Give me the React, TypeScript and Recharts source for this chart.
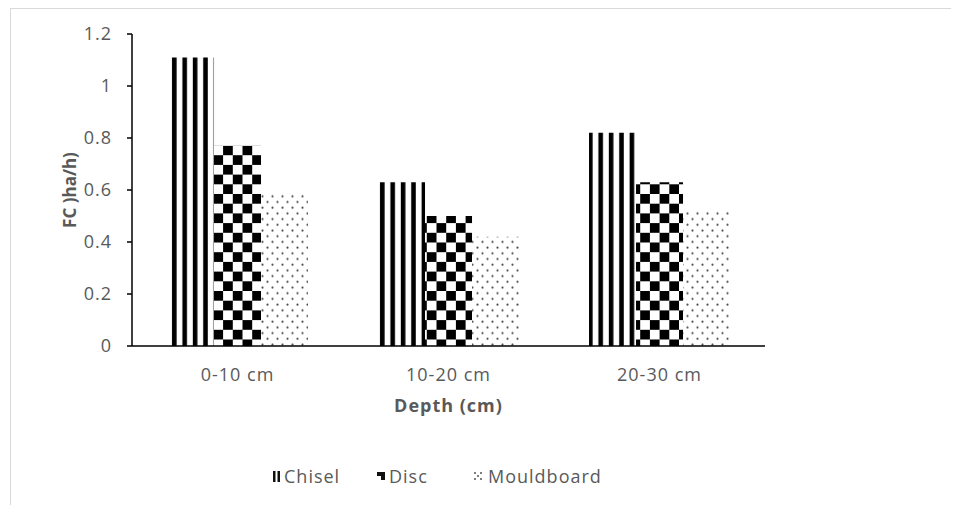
import { BarChart, Bar, XAxis, YAxis } from "recharts";

const depths = ["0-10 cm", "10-20 cm", "20-30 cm"];
const chisel = [1.11, 0.63, 0.82];
const disc = [0.77, 0.5, 0.63];
const mouldboard = [0.59, 0.42, 0.52];
const yTicks = [0, 0.2, 0.4, 0.6, 0.8, 1, 1.2];
const seriesNames = ["Chisel", "Disc", "Mouldboard"];

const data = depths.map((depth, i) => ({
  depth,
  Chisel: chisel[i],
  Disc: disc[i],
  Mouldboard: mouldboard[i],
}));

const FONT = "'Open Sans', sans-serif";
const GREY = "#595959";

const fills: Record<string, string> = {
  Chisel: "url(#pChisel)",
  Disc: "url(#pDisc)",
  Mouldboard: "url(#pMould)",
};

// where each legend entry starts
const legendLeft: Record<string, number> = { Chisel: 272, Disc: 377, Mouldboard: 473 };

function XTick({ x, y, payload }: any) {
  return (
    <text
      x={x}
      y={y}
      dy={35}
      textAnchor="middle"
      fill={GREY}
      fontSize={18}
      fontFamily={FONT}
      letterSpacing={1}
    >
      {payload.value}
    </text>
  );
}

function YTick({ x, y, payload }: any) {
  return (
    <text
      x={x}
      y={y}
      dy="0.36em"
      textAnchor="end"
      fill={GREY}
      fontSize={18}
      fontFamily={FONT}
      letterSpacing={1}
    >
      {String(payload.value)}
    </text>
  );
}

// small legend swatches
function LegendIcon({ name }: { name: string }) {
  if (name === "Chisel") {
    return (
      <svg width={9} height={12}>
        <rect x={1} y={1} width={2.5} height={11} fill="#111" />
        <rect x={5.5} y={1} width={2.5} height={11} fill="#111" />
      </svg>
    );
  }
  if (name === "Disc") {
    return (
      <svg width={9} height={12}>
        <rect x={0} y={2} width={8} height={4} fill="#111" />
        <rect x={4} y={6} width={4} height={4} fill="#111" />
      </svg>
    );
  }
  return (
    <svg width={12} height={12}>
      {[
        [2, 3],
        [8, 3],
        [5, 6],
        [2, 9],
        [8, 9],
      ].map(([cx, cy], i) => (
        <circle key={i} cx={cx} cy={cy} r={1} fill="#555" />
      ))}
    </svg>
  );
}

export default function App() {
  return (
    <div
      style={{
        position: "relative",
        width: 959,
        height: 513,
        margin: -8,
        overflow: "hidden",
        background: "#fff",
      }}
    >
      {/* outer frame */}
      <div
        style={{
          position: "absolute",
          left: 10,
          top: 8,
          width: 1000,
          height: 600,
          border: "1.5px solid #d9d9d9",
        }}
      />

      <div style={{ position: "absolute", left: 0, top: 0 }}>
        <BarChart
          width={959}
          height={513}
          data={data}
          margin={{ top: 34, right: 194, bottom: 137, left: 72 }}
          barCategoryGap="16.6%"
          barGap={0}
        >
          <defs>
            <pattern id="pChisel" patternUnits="userSpaceOnUse" width={10.4} height={10}>
              <rect width={10.4} height={10} fill="#fff" />
              <rect x={5.6} width={4.6} height={10} fill="#000" />
            </pattern>
            <pattern id="pDisc" patternUnits="userSpaceOnUse" width={19.4} height={19.4}>
              <rect width={19.4} height={19.4} fill="#fff" />
              <rect x={0} y={0} width={9.7} height={9.7} fill="#000" />
              <rect x={9.7} y={9.7} width={9.7} height={9.7} fill="#000" />
            </pattern>
            <pattern id="pMould" patternUnits="userSpaceOnUse" width={10} height={11.4}>
              <rect width={10} height={11.4} fill="#fff" />
              <circle cx={2.5} cy={2.5} r={1.1} fill="#4a4a4a" />
              <circle cx={7.5} cy={8.2} r={1.1} fill="#4a4a4a" />
            </pattern>
          </defs>
          <XAxis
            dataKey="depth"
            axisLine={{ stroke: "#000", strokeWidth: 1.5 }}
            tickLine={false}
            tickSize={0}
            tickMargin={0}
            tick={<XTick />}
            height={30}
            label={{
              content: (p: any) => (
                <text
                  x={p.viewBox.x + p.viewBox.width / 2}
                  y={412}
                  textAnchor="middle"
                  fill={GREY}
                  fontSize={18}
                  fontWeight="bold"
                  fontFamily={FONT}
                  letterSpacing={1}
                >
                  Depth (cm)
                </text>
              ),
            }}
          />
          <YAxis
            domain={[0, 1.2]}
            ticks={yTicks}
            width={60}
            axisLine={{ stroke: "#000", strokeWidth: 1.5 }}
            tickLine={{ stroke: "#000", strokeWidth: 1.5 }}
            tickSize={5}
            tickMargin={15}
            tick={<YTick />}
            label={{
              content: (p: any) => {
                const cy = p.viewBox.y + p.viewBox.height / 2;
                return (
                  <text
                    x={76}
                    y={cy}
                    transform={`rotate(-90, 76, ${cy})`}
                    textAnchor="middle"
                    fill={GREY}
                    fontSize={17}
                    fontWeight="bold"
                    fontFamily={FONT}
                  >
                    FC )ha/h)
                  </text>
                );
              },
            }}
          />
          {seriesNames.map((name) => (
            <Bar
              key={name}
              dataKey={name}
              fill={fills[name]}
              isAnimationActive={false}
            />
          ))}
        </BarChart>
      </div>

      {/* legend */}
      {seriesNames.map((name) => (
        <div
          key={name}
          style={{
            position: "absolute",
            left: legendLeft[name],
            top: 464,
            display: "flex",
            alignItems: "center",
            gap: 3,
            fontFamily: FONT,
            fontSize: 18,
            letterSpacing: 1,
            color: GREY,
          }}
        >
          <LegendIcon name={name} />
          <span>{name}</span>
        </div>
      ))}
    </div>
  );
}
